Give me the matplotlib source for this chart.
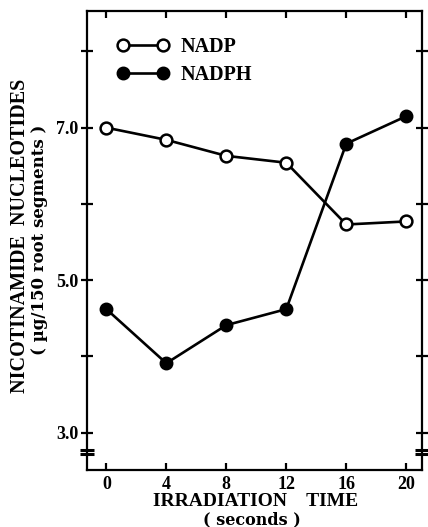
import matplotlib
matplotlib.use("Agg")
import matplotlib.pyplot as plt
import matplotlib.transforms as mtransforms

time_s = [0, 4, 8, 12, 16, 20]
nadp = [7.0, 6.84, 6.63, 6.54, 5.73, 5.77]
nadph = [4.62, 3.91, 4.41, 4.62, 6.79, 7.15]
x_ticks = [0, 4, 8, 12, 16, 20]
y_ticks = [3, 4, 5, 6, 7, 8]
y_tick_labels = ["3.0", "", "5.0", "", "7.0", ""]

plt.rcParams['font.family'] = ['Liberation Serif', 'DejaVu Serif']
plt.rcParams['font.weight'] = 'bold'

W, H = 428, 527
fig = plt.figure(figsize=(W / 100, H / 100), dpi=100)
ax = fig.add_axes([87 / W, 57 / H, 335 / W, 459 / H])

ax.plot(time_s, nadp, color='black', lw=1.9, marker='o', ms=8.5,
        mfc='white', mec='black', mew=1.8, label='NADP', zorder=3)
ax.plot(time_s, nadph, color='black', lw=1.9, marker='o', ms=8.5,
        mfc='black', mec='black', mew=1.5, label='NADPH', zorder=3)

ax.set_xlim(-1.29, 21.05)
ax.set_ylim(2.51, 8.53)
ax.set_xticks(x_ticks)
ax.set_xticklabels([str(t) for t in x_ticks], fontsize=13, fontweight='bold')
ax.set_yticks(y_ticks)
ax.set_yticklabels(y_tick_labels, fontsize=13, fontweight='bold')

for s in ax.spines.values():
    s.set_linewidth(1.6)
ax.tick_params(axis='x', which='both', direction='in', length=5, width=1.6,
               top=True, pad=4)
ax.tick_params(axis='y', which='both', direction='inout', length=8, width=1.6,
               right=True, pad=2)

# axis break marks
for xa in (0.0, 1.0):
    tr = mtransforms.blended_transform_factory(ax.transAxes, ax.transData)
    ax.plot([xa - 0.022, xa + 0.022], [2.775, 2.775], color='black', lw=2.2,
            transform=tr, clip_on=False, solid_capstyle='butt')
    ax.plot([xa - 0.022, xa + 0.022], [2.72, 2.72], color='black', lw=2.2,
            transform=tr, clip_on=False, solid_capstyle='butt')

leg = ax.legend(loc='upper left', bbox_to_anchor=(0.0896, 0.9435), frameon=False,
                fontsize=14.5, numpoints=2, handlelength=2.59,
                handletextpad=0.59, labelspacing=0.42, borderaxespad=0,
                borderpad=0)
for t in leg.get_texts():
    t.set_fontweight('bold')

fig.text(20 / W, 1 - 236 / H, "NICOTINAMIDE  NUCLEOTIDES", rotation=90,
         ha='center', va='center', fontsize=14.5, fontweight='bold')
fig.text(40 / W, 1 - 240 / H, "( µg/150 root segments )", rotation=90,
         ha='center', va='center', fontsize=12, fontweight='bold',
         family=['DejaVu Serif'])
fig.text(256 / W, 1 - 501 / H, "IRRADIATION    TIME",
         ha='center', va='center', fontsize=14, fontweight='bold')
fig.text(252 / W, 1 - 520 / H, "( seconds )",
         ha='center', va='center', fontsize=11.5, fontweight='bold',
         family=['DejaVu Serif'])

fig.savefig("out.png", dpi=100)
